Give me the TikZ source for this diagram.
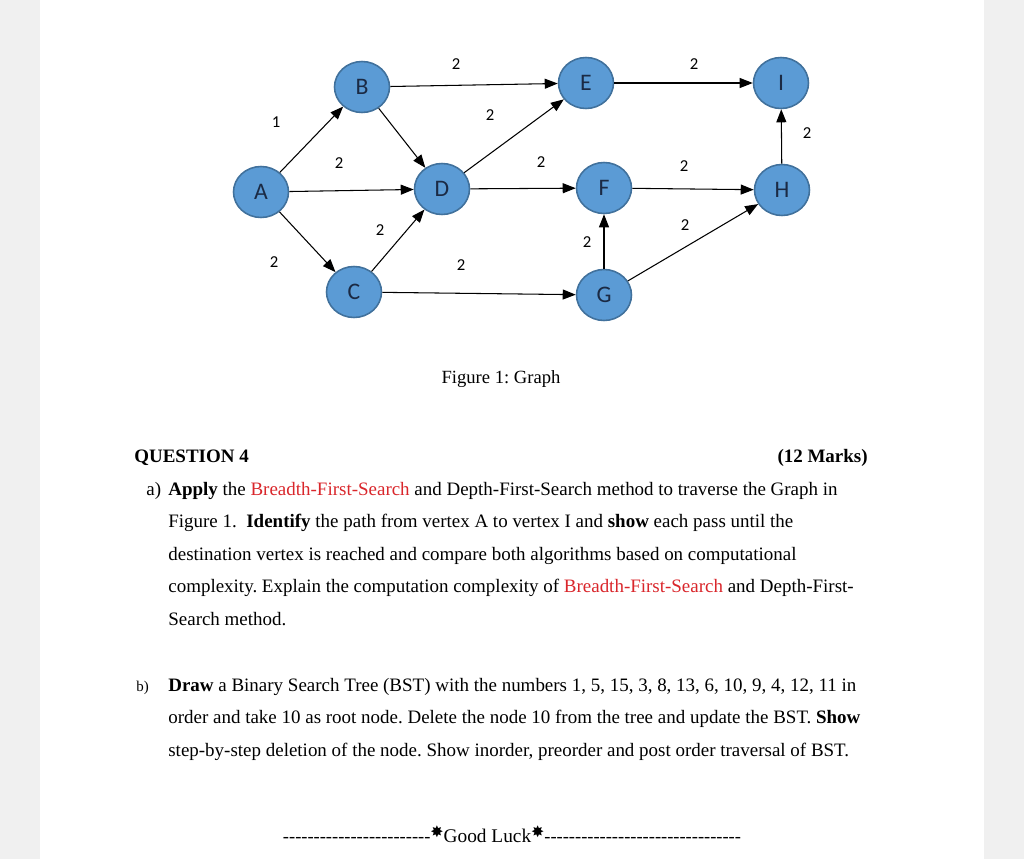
\documentclass[tikz,border=0pt]{standalone}
\usepackage{fontspec}
\setmainfont{Liberation Serif}
\newfontfamily\graphfont{Carlito}
\newfontfamily\starfont{DejaVu Sans}
\usetikzlibrary{arrows.meta,positioning,shapes.geometric}
\definecolor{Page}{HTML}{F0F0F0}
\definecolor{NodeFill}{HTML}{5B9BD5}
\definecolor{NodeLine}{HTML}{41719C}
\definecolor{NodeText}{HTML}{1B2A44}
\definecolor{Red}{HTML}{D9262B}
\newcommand\hyphens[1]{\foreach \n in {1,...,#1}{-{}}}
\newcommand\luckstar{{\starfont\raisebox{.45ex}{\small✸}}}
\tikzset{vertex/.style={ellipse,draw=NodeLine,fill=NodeFill,line width=.9pt,minimum width=1.1cm,minimum height=1.02cm,inner sep=0pt,text=NodeText,font=\graphfont\fontsize{13.5}{15}\selectfont},edge/.style={-{Triangle[length=2.6mm,width=2mm]},line width=.6pt,black},weight/.style={font=\graphfont\fontsize{9.5}{11}\selectfont,inner sep=0pt},line/.style={anchor=base west,inner sep=0pt,font=\fontsize{10.8}{12}\selectfont}}

\begin{document}
\frenchspacing
\begin{tikzpicture}[x=0.02cm,y=-0.02cm]
  \useasboundingbox (0,0) rectangle (1024,859);
  \fill[Page] (0,0) rectangle (40,859);\fill[Page] (984,0) rectangle (1024,859);
  % graph
  \node[vertex] (A) at (261,192) {A};
  \node[vertex] (B) at (362,87) {B};
  \node[vertex] (C) at (354,292) {C};
  \node[vertex] (D) at (442,189) {D};
  \node[vertex] (E) at (586,83) {E};
  \node[vertex] (F) at (604,188) {F};
  \node[vertex] (G) at (604,295) {G};
  \node[vertex] (H) at (782,190) {H};
  \node[vertex] (I) at (781,83) {I};
  \foreach \s/\t in {A/B,A/D,A/C,B/D,B/E,D/E,D/F,C/D,C/G,G/F,E/I,F/H,G/H,H/I}
    \draw[edge] (\s) -- (\t);
  \foreach \x/\y/\w [count=\i] in {276/122/1,456/64/2,490/115/2,339/163/2,541/162/2,694/64/2,807/133/2,684/166/2,380/230/2,685/225/2,587/242/2,274/262/2,461/265/2}
    \node[weight] (w\i) at (\x,\y) {\w};
  \node[line,anchor=base,font=\fontsize{10.6}{12}\selectfont] (cap) at (501,383) {Figure 1: Graph};
  % question text
  \node[line] (q) at (134,462) {\textbf{QUESTION 4}};
  \node[line,anchor=base east] (marks) at (868,462) {\textbf{(12 Marks)}};
  \node[line] (pa) at (146,495) {a)};
  \node[line] (a1) at (168,495) {\textbf{Apply} the \textcolor{Red}{Breadth-First-Search} and Depth-First-Search method to traverse the Graph in};
  \node[line] (a2) at (168,527.5) {Figure 1.\ \ \textbf{Identify} the path from vertex A to vertex I and \textbf{show} each pass until the};
  \node[line] (a3) at (168,560) {destination vertex is reached and compare both algorithms based on computational};
  \node[line] (a4) at (168,592.5) {complexity. Explain the computation complexity of \textcolor{Red}{Breadth-First-Search} and Depth-First-};
  \node[line] (a5) at (168,625) {Search method.};
  \node[line,font=\fontsize{8.5}{10}\selectfont] (pb) at (136,691) {b)};
  \node[line] (b1) at (168,691) {\textbf{Draw} a Binary Search Tree (BST) with the numbers 1, 5, 15, 3, 8, 13, 6, 10, 9, 4, 12, 11 in};
  \node[line] (b2) at (168,723.5) {order and take 10 as root node. Delete the node 10 from the tree and update the BST. \textbf{Show}};
  \node[line] (b3) at (168,756) {step-by-step deletion of the node. Show inorder, preorder and post order traversal of BST.};
  \node[line,anchor=base,font=\fontsize{10.5}{12}\selectfont] (luck) at (512,842) {\hyphens{24}\luckstar{\fontsize{11}{12}\selectfont Good Luck}\luckstar\hyphens{32}};
\end{tikzpicture}
\end{document}
